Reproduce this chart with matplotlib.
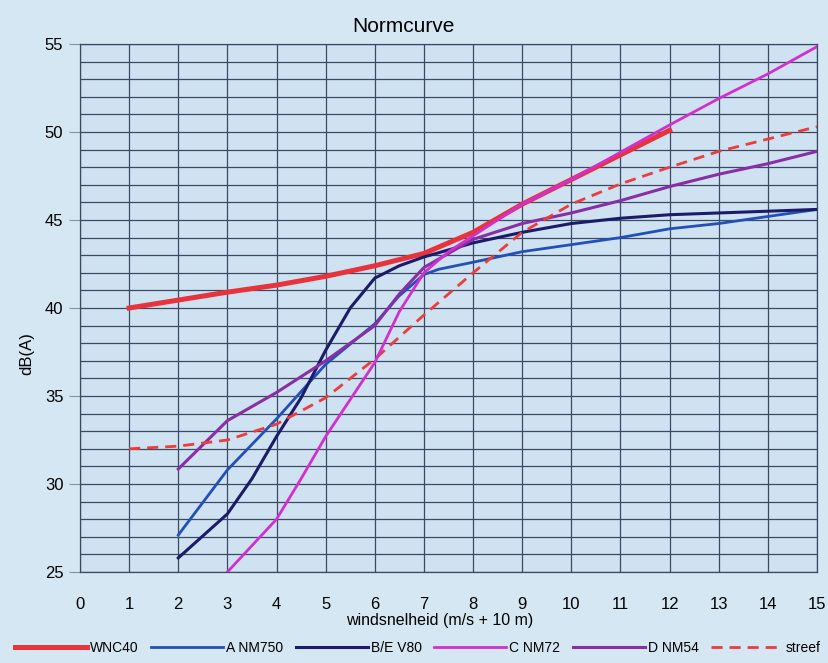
import matplotlib
matplotlib.use("Agg")
import matplotlib.pyplot as plt
import numpy as np

plt.rcParams["font.family"] = ["Liberation Sans", "DejaVu Sans"]

# ─── Data ────────────────────────────────────────────────────────────────────
wnc40_x = [1, 2, 3, 4, 5, 6, 7, 8, 9, 10, 11, 12]
wnc40_y = [40.0, 40.45, 40.9, 41.3, 41.8, 42.4, 43.1, 44.3, 45.9, 47.3, 48.7, 50.1]

a_nm750_x = [2, 3, 4, 5, 6, 6.5, 7, 7.3, 8, 9, 10, 11, 12, 13, 14, 15]
a_nm750_y = [27.1, 30.8, 33.7, 36.8, 39.1, 40.7, 41.9, 42.2, 42.6, 43.2, 43.6,
             44.0, 44.5, 44.8, 45.2, 45.6]

bev80_x = [2, 3, 3.5, 4, 4.5, 5, 5.5, 6, 6.5, 7, 8, 9, 10, 11, 12, 13, 14, 15]
bev80_y = [25.8, 28.3, 30.3, 32.7, 34.9, 37.6, 40.0, 41.7, 42.4, 42.9, 43.7,
           44.3, 44.8, 45.1, 45.3, 45.4, 45.5, 45.6]

c_nm72_x = [3, 4, 4.5, 5, 5.5, 6, 6.5, 7, 7.5, 8, 9, 10, 11, 12, 13, 14, 15]
c_nm72_y = [25.0, 28.0, 30.3, 32.7, 34.8, 36.9, 39.8, 42.0, 43.2, 44.1, 45.9,
            47.3, 48.85, 50.4, 51.9, 53.3, 54.85]

d_nm54_x = [2, 3, 4, 5, 6, 6.5, 7, 8, 9, 10, 11, 12, 13, 14, 15]
d_nm54_y = [30.85, 33.6, 35.2, 37.0, 39.0, 40.8, 42.3, 43.9, 44.8, 45.4, 46.1,
            46.9, 47.6, 48.2, 48.9]

streef_x = [1, 2, 3, 4, 5, 6, 7, 8, 9, 10, 11, 12, 13, 14, 15]
streef_y = [32.0, 32.15, 32.5, 33.4, 34.9, 37.1, 39.6, 42.0, 44.3, 45.9, 47.05,
            48.0, 48.9, 49.6, 50.3]

x_ticks = list(range(0, 16))
y_ticks = [25, 30, 35, 40, 45, 50, 55]

# ─── Figure ──────────────────────────────────────────────────────────────────
W, H = 829, 663
fig = plt.figure(figsize=(W / 100, H / 100), dpi=100, facecolor="#d6e7f4")
ax = fig.add_axes([80 / W, 1 - 572 / H, (817 - 80) / W, (572 - 44) / H])
ax.set_facecolor("#cfe2f1")

grid_c = "#3b4962"
for yy in range(25, 56):
    ax.axhline(yy, color=grid_c, linewidth=0.9, zorder=1)
for xx in x_ticks:
    ax.axvline(xx, color=grid_c, linewidth=0.9, zorder=1)

ax.plot(wnc40_x, wnc40_y, color="#e8323c", linewidth=3.6, label="WNC40", zorder=3)
ax.plot(a_nm750_x, a_nm750_y, color="#2250b8", linewidth=2.0, label="A NM750", zorder=3)
ax.plot(bev80_x, bev80_y, color="#1b1b6a", linewidth=2.2, label="B/E V80", zorder=3)
ax.plot(c_nm72_x, c_nm72_y, color="#d22fd0", linewidth=2.0, label="C NM72", zorder=4)
ax.plot(d_nm54_x, d_nm54_y, color="#8a2ea6", linewidth=2.2, label="D NM54", zorder=3)
ax.plot(streef_x, streef_y, color="#ee3b3b", linewidth=2.0, linestyle=(0, (4, 2.5)),
        label="streef", zorder=3)

ax.set_xlim(0, 15)
ax.set_ylim(25, 55)
ax.set_xticks(x_ticks)
ax.set_yticks(y_ticks)
ax.tick_params(axis="x", length=0, pad=18, labelsize=12)
ax.tick_params(axis="y", length=8, color="#8a8f99", pad=4, labelsize=12)
for sp in ax.spines.values():
    sp.set_color(grid_c)
    sp.set_linewidth(0.9)

fig.text(403 / W, 1 - 27 / H, "Normcurve", fontsize=15, ha="center", va="center")
fig.text(440 / W, 1 - 620 / H, "windsnelheid (m/s + 10 m)", fontsize=11.5,
         ha="center", va="center")
fig.text(27 / W, 1 - 354 / H, "dB(A)", fontsize=12, rotation=90,
         ha="center", va="center")

fig.legend(loc="center", bbox_to_anchor=(418 / W, 1 - 648 / H), ncol=6,
           frameon=False, fontsize=10, handlelength=5.2, handletextpad=0.2,
           columnspacing=0.9)

plt.savefig("out.png", dpi=100, facecolor=fig.get_facecolor())
plt.close()
